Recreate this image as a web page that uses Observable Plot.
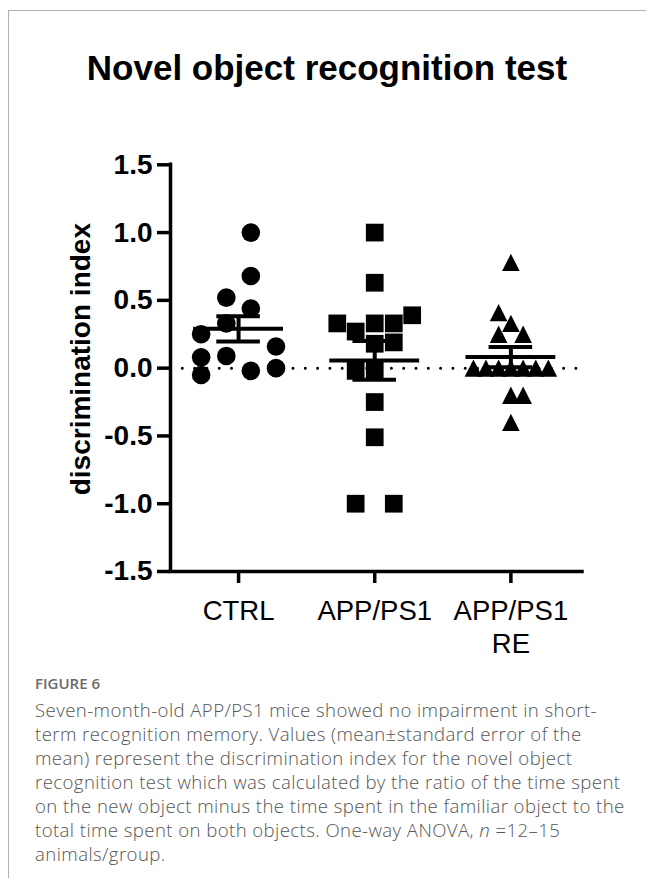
<!DOCTYPE html>
<html>
<head>
<meta charset="utf-8">
<script src="https://cdn.jsdelivr.net/npm/d3@7"></script>
<script src="https://cdn.jsdelivr.net/npm/@observablehq/plot@0.6"></script>
<style>
  html, body { margin: 0; padding: 0; background: #fff; }
  body { width: 646px; height: 878px; position: relative; overflow: hidden; font-family: "Liberation Sans", Arial, sans-serif; }
  #frame { position: absolute; left: 8px; top: 10px; width: 660px; height: 900px; border-left: 1.5px solid #b0b0b0; border-top: 1.5px solid #b0b0b0; }
  #title { position: absolute; left: 4px; top: 48px; width: 646px; text-align: center; font-size: 35px; line-height: 40px; font-weight: bold; color: #000; }
  #chart { position: absolute; left: 0; top: 110px; }
  #figlabel { position: absolute; left: 35px; top: 673px; font-family: "Open Sans", sans-serif; font-size: 15px; line-height: 20px; color: #6a6a6a; font-weight: 600; }
  #caption { position: absolute; left: 35px; top: 698px; font-family: "Open Sans", sans-serif; font-size: 18.6px; letter-spacing: 0.42px; line-height: 24px; font-weight: 300; color: #555; white-space: nowrap; }
</style>
</head>
<body>
<div id="frame"></div>
<div id="title">Novel object recognition test</div>
<div id="chart"></div>
<div id="figlabel">FIGURE 6</div>
<div id="caption">Seven-month-old APP/PS1 mice showed no impairment in short-<br>term recognition memory. Values (mean±standard error of the<br>mean) represent the discrimination index for the novel object<br>recognition test which was calculated by the ratio of the time spent<br>on the new object minus the time spent in the familiar object to the<br>total time spent on both objects. One-way ANOVA, <i>n</i> =12–15<br>animals/group.</div>
<script>
// Categories
const groups = ["CTRL", "APP/PS1", "APP/PS1\nRE"];
// Individual discrimination index values
const ctrlValues = [1.0, 0.68, 0.52, 0.44, 0.33, 0.25, 0.16, 0.09, 0.08, -0.05, -0.02, 0.0];
const appValues  = [1.0, 0.63, 0.39, 0.33, 0.33, 0.33, 0.27, 0.19, 0.18, -0.02, -0.02, -0.25, -0.51, -1.0, -1.0];
const reValues   = [0.78, 0.41, 0.33, 0.25, 0.25, 0, 0, 0, 0, 0, 0, 0, -0.2, -0.2, -0.4];
// Horizontal scatter of each point within its group (category units)
const ctrlSpread = [0.09, 0.09, -0.09, 0.09, -0.09, -0.275, 0.275, -0.09, -0.275, -0.275, 0.09, 0.275];
const appSpread  = [0, 0, 0.275, -0.275, 0, 0.14, -0.14, 0.14, 0, -0.14, 0, 0, 0, -0.14, 0.14];
const reSpread   = [0, -0.09, 0, -0.09, 0.09, -0.275, -0.183, -0.09, 0, 0.09, 0.183, 0.275, 0, 0.09, 0];
// Axis ticks
const yTicks = [-1.5, -1.0, -0.5, 0, 0.5, 1.0, 1.5];
const yLabel = "discrimination index";

const valueSets = [ctrlValues, appValues, reValues];
const spreadSets = [ctrlSpread, appSpread, reSpread];
const points = valueSets.map((vals, i) => vals.map((v, j) => ({i, v, s: spreadSets[i][j]})));
const stats = valueSets.map((vals, i) => {
  const m = d3.mean(vals);
  const se = d3.deviation(vals) / Math.sqrt(vals.length);
  return {i, m, lo: m - se, hi: m + se};
});

const tallTriangle = {
  draw(ctx, size) {
    const r = Math.sqrt(size / Math.PI);
    const w = r * 0.98, h = r * 0.96;
    ctx.moveTo(0, -h); ctx.lineTo(w, h); ctx.lineTo(-w, h); ctx.closePath();
  }
};

const lw = 3.5;
const chart = Plot.plot({
  width: 646,
  height: 550,
  marginLeft: 170,
  marginRight: 64,
  marginTop: 54.3,
  marginBottom: 89,
  style: {fontFamily: "'Liberation Sans', Arial, sans-serif", color: "#000", background: "transparent"},
  x: {domain: [-0.5, 2.526], label: null},
  y: {domain: [-1.5, 1.5], label: null},
  marks: [
    Plot.ruleY([0], {stroke: "#000", strokeWidth: 3, strokeDasharray: "0 12.3", strokeLinecap: "round"}),
    Plot.dot(points[0], {x: d => d.i + d.s, y: "v", r: 9.3, symbol: "circle", fill: "#000", stroke: "none"}),
    Plot.dot(points[1], {x: d => d.i + d.s, y: "v", r: 10, symbol: "square", fill: "#000", stroke: "none"}),
    Plot.dot(points[2], {x: d => d.i + d.s, y: "v", r: 9, symbol: tallTriangle, fill: "#000", stroke: "none"}),
    Plot.ruleY(stats, {y: "m", x1: d => d.i - 0.33, x2: d => d.i + 0.33, strokeWidth: 4, stroke: "#000"}),
    Plot.ruleY(stats, {y: "hi", x1: d => d.i - 0.16, x2: d => d.i + 0.16, strokeWidth: 4, stroke: "#000"}),
    Plot.ruleY(stats, {y: "lo", x1: d => d.i - 0.16, x2: d => d.i + 0.16, strokeWidth: 4, stroke: "#000"}),
    Plot.ruleX(stats, {x: "i", y1: "lo", y2: "hi", strokeWidth: 4, stroke: "#000"}),
    Plot.ruleX([-0.5], {strokeWidth: lw, stroke: "#000", strokeLinecap: "square"}),
    Plot.ruleY([-1.5], {strokeWidth: lw, stroke: "#000", strokeLinecap: "square"}),
    Plot.axisY({ticks: yTicks, tickFormat: d => d.toFixed(1), tickSize: 13, tickPadding: 5,
      fontSize: 28, fontWeight: "bold", strokeWidth: lw, label: null}),
    Plot.axisX({ticks: [0, 1, 2], tickFormat: i => groups[i], tickSize: 12, tickPadding: 13,
      fontSize: 27.5, lineHeight: 1.2, strokeWidth: lw, label: null}),
    Plot.text([yLabel], {text: d => d, frameAnchor: "left", textAnchor: "middle", lineAnchor: "middle",
      rotate: -90, dx: -89, dy: -9, fontSize: 28, fontWeight: "bold", fill: "#000"})
  ]
});
document.getElementById("chart").appendChild(chart);
</script>
</body>
</html>
